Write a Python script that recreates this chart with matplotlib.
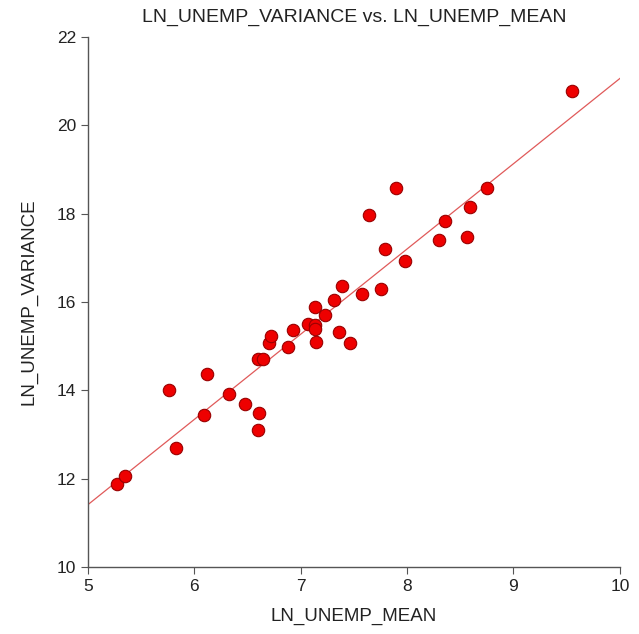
import matplotlib
matplotlib.use('Agg')
import matplotlib.pyplot as plt
import numpy as np

plt.rcParams['font.family'] = ['Liberation Sans', 'DejaVu Sans']

# data
ln_unemp_mean = [5.27, 5.35, 5.76, 5.83, 6.09, 6.12, 6.33, 6.48, 6.60, 6.61,
                 6.60, 6.65, 6.70, 6.72, 6.88, 6.93, 7.07, 7.13, 7.13, 7.14,
                 7.13, 7.23, 7.31, 7.36, 7.39, 7.46, 7.58, 7.64, 7.75, 7.79,
                 7.90, 7.98, 8.30, 8.36, 8.56, 8.59, 8.75, 9.55]
ln_unemp_variance = [11.88, 12.06, 14.00, 12.69, 13.44, 14.38, 13.91, 13.70, 13.11, 13.49,
                     14.71, 14.71, 15.07, 15.24, 14.97, 15.37, 15.50, 15.48, 15.38, 15.09,
                     15.89, 15.71, 16.04, 15.32, 16.36, 15.06, 16.19, 17.98, 16.29, 17.20,
                     18.58, 16.92, 17.41, 17.83, 17.47, 18.14, 18.57, 20.77]
x_ticks = [5, 6, 7, 8, 9, 10]
y_ticks = [10, 12, 14, 16, 18, 20, 22]

x = np.array(ln_unemp_mean)
y = np.array(ln_unemp_variance)
slope, intercept = np.polyfit(x, y, 1)

fig = plt.figure(figsize=(6.39, 6.34), dpi=100)
ax = fig.add_axes([0.1377, 0.1057, 0.8323, 0.836])

xl = np.array([5, 10])
ax.plot(xl, intercept + slope * xl, color='#e05a5a', linewidth=0.9, zorder=2)
ax.scatter(x, y, s=80, color='#ee0000', edgecolors='#990000', linewidths=0.8, zorder=3)

ax.set_xlim(5, 10)
ax.set_ylim(10, 22)
ax.set_xticks(x_ticks)
ax.set_yticks(y_ticks)
for side in ['top', 'right']:
    ax.spines[side].set_visible(False)
for side in ['left', 'bottom']:
    ax.spines[side].set_color('#555555')
    ax.spines[side].set_linewidth(1.0)
ax.tick_params(direction='out', length=5, color='#555555', labelsize=12.5,
               labelcolor='#222222')

ax.set_xlabel('LN_UNEMP_MEAN', fontsize=13.5, color='#222222', labelpad=10)
ax.set_ylabel('LN_UNEMP_VARIANCE', fontsize=13.5, color='#222222', labelpad=14)
ax.set_title('LN_UNEMP_VARIANCE vs. LN_UNEMP_MEAN', fontsize=14, color='#222222', pad=11)

fig.savefig('out.png', dpi=100)
plt.close(fig)
